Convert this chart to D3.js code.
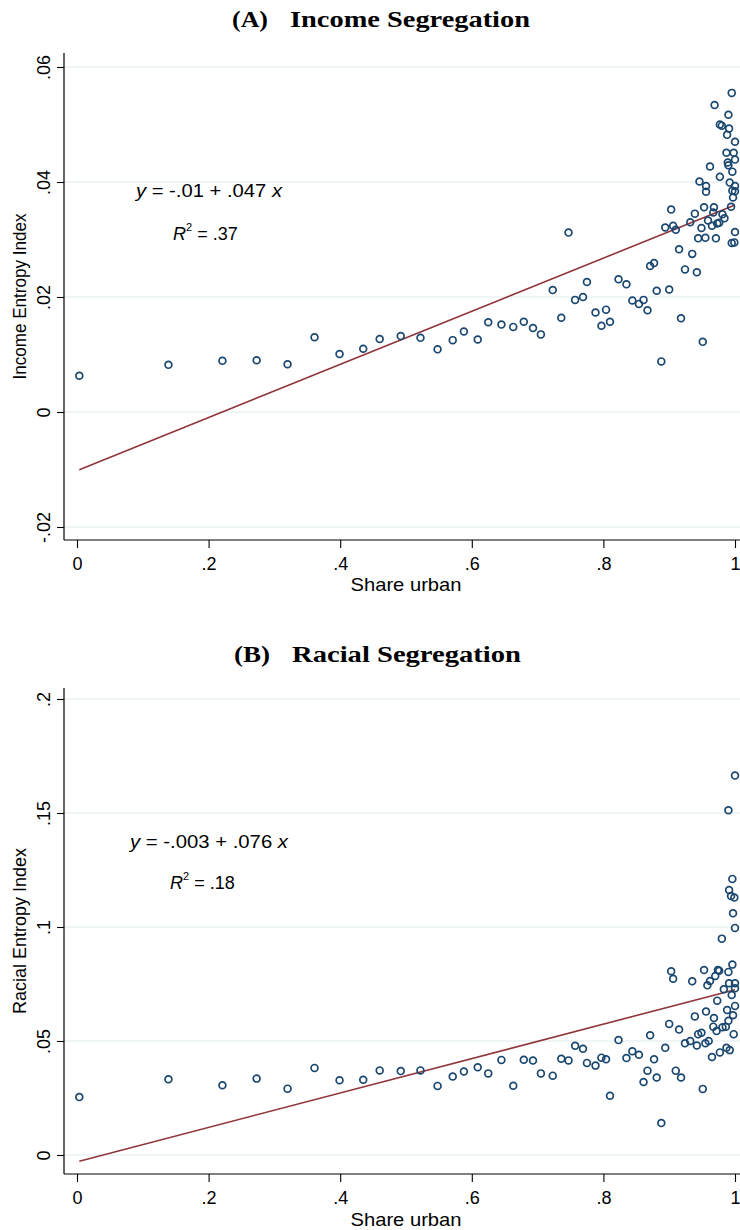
<!DOCTYPE html>
<html><head><meta charset="utf-8">
<script src="https://cdn.jsdelivr.net/npm/d3@7"></script>
<style>body{margin:0;background:#fff}svg{display:block}</style>
</head><body><svg id="c" width="740" height="1230"></svg>
<script>
// ---------- data ----------
const xTicks = [0, 0.2, 0.4, 0.6, 0.8, 1];
const xTickLabels = ["0", ".2", ".4", ".6", ".8", "1"];
const incomeTicks = [-0.02, 0, 0.02, 0.04, 0.06];
const incomeTickLabels = ["-.02", "0", ".02", ".04", ".06"];
const racialTicks = [0, 0.05, 0.1, 0.15, 0.2];
const racialTickLabels = ["0", ".05", ".1", ".15", ".2"];

const incomeShareUrban = [0.0035,0.139,0.221,0.273,0.320,0.361,0.399,0.435,0.460,
 0.492,0.522,0.548,0.571,0.588,0.609,0.625,0.645,0.663,0.679,0.693,0.705,0.723,0.736,0.747,0.757,0.769,0.775,0.788,0.797,0.804,0.810,0.823,
 0.835,0.844,0.854,0.861,0.867,0.871,0.877,0.881,0.888,0.894,0.900,0.903,0.906,0.910,0.915,0.918,0.924,0.932,0.935,0.939,0.942,0.944,0.949,0.951,0.953,0.955,0.959,0.965,0.967,0.968,0.971,0.973,0.976,0.981,0.984,0.994,0.995,0.999,1.0,
 0.995,0.969,0.990,0.977,0.980,0.991,0.988,1.0,0.987,0.998,1.0,0.989,0.990,0.962,0.996,0.977,0.946,0.956,0.992,1.0,0.956,0.996,1.0,0.997];
const incomeIndex = [0.0063,0.0082,0.0089,0.0090,0.0083,0.0130,0.0101,0.0110,0.0127,
 0.0132,0.0129,0.0109,0.0125,0.0140,0.0126,0.0156,0.0152,0.0148,0.0157,0.0146,0.0135,0.0212,0.0164,0.0312,0.0195,0.0200,0.0226,0.0173,0.0150,0.0178,0.0157,0.0231,
 0.0222,0.0194,0.0188,0.0195,0.0177,0.0254,0.0259,0.0211,0.0088,0.0321,0.0213,0.0352,0.0324,0.0317,0.0283,0.0163,0.0248,0.0330,0.0275,0.0345,0.0243,0.0302,0.0320,0.0122,0.0356,0.0303,0.0333,0.0324,0.0347,0.0356,0.0302,0.0328,0.0329,0.0344,0.0337,0.0357,0.0294,0.0295,0.0313,
 0.0555,0.0534,0.0517,0.0500,0.0498,0.0493,0.0482,0.0470,0.0451,0.0451,0.0439,0.0434,0.0429,0.0427,0.0418,0.0409,0.0401,0.0393,0.0399,0.0393,0.0383,0.0385,0.0384,0.0373];

const racialShareUrban = [0.0035,0.139,0.221,0.273,0.320,0.361,0.399,0.435,0.460,
 0.492,0.522,0.548,0.571,0.588,0.609,0.625,0.645,0.663,0.679,0.693,0.705,0.723,0.736,0.747,0.757,0.769,0.775,0.788,0.797,0.804,0.810,0.823,
 0.835,0.844,0.854,0.861,0.867,0.871,0.877,0.881,0.888,0.894,0.900,0.903,0.906,0.910,0.915,0.918,0.924,0.932,0.935,0.939,0.942,0.944,0.949,0.951,0.953,0.955,0.956,0.958,0.962,0.965,0.967,0.968,0.970,0.972,0.973,0.974,0.976,0.980,0.981,0.983,0.986,0.988,
 0.990,0.990,0.990,0.991,0.991,0.994,0.995,0.996,0.996,0.997,0.997,0.999,1.0,1.0,1.0,1.0,1.0,0.977,0.987,0.992,0.998,0.960];
const racialIndex = [0.0254,0.0332,0.0306,0.0335,0.0291,0.0382,0.0328,0.0330,0.0371,
 0.0368,0.0371,0.0303,0.0344,0.0366,0.0385,0.0358,0.0417,0.0304,0.0418,0.0414,0.0358,0.0348,0.0422,0.0415,0.0479,0.0466,0.0404,0.0392,0.0427,0.0420,0.0260,0.0504,
 0.0425,0.0455,0.0440,0.0320,0.0370,0.0525,0.0420,0.0340,0.0140,0.0470,0.0575,0.0806,0.0773,0.0370,0.0550,0.0340,0.0490,0.0500,0.0762,0.0608,0.0480,0.0530,0.0536,0.0290,0.0811,0.0490,0.0629,0.0744,0.0763,0.0430,0.0563,0.0601,0.0785,0.0544,0.0677,0.0811,0.0808,0.0949,0.0560,0.0727,0.0563,0.0636,
 0.0803,0.1512,0.0589,0.0753,0.1162,0.1136,0.0702,0.0835,0.1211,0.1060,0.0613,0.1129,0.1664,0.0996,0.0753,0.0731,0.0654,0.0450,0.0470,0.0460,0.0530,0.0500];

// fitted lines: [intercept, slope]
const incomeFit = [-0.0102, 0.0462];
const racialFit = [-0.003, 0.0755];

// ---------- drawing ----------
const svg = d3.select("#c");
const NAVY = "#1a476f", RED = "#90353b", GRID = "#eaf2f3";
const SANS = "'Liberation Sans', Arial, sans-serif";
const SERIF = "'Liberation Serif', 'Times New Roman', serif";

const x = d3.scaleLinear().domain([0, 1]).range([77, 735]);

function panel(cfg) {
  const g = svg.append("g");
  const y = cfg.y;
  // gridlines
  g.selectAll("line.grid").data(cfg.yTicks).join("line")
    .attr("x1", 64).attr("x2", 740)
    .attr("y1", d => y(d)).attr("y2", d => y(d))
    .attr("stroke", GRID).attr("stroke-width", 1.5);

  // y axis
  const ya = g.append("g").attr("transform", "translate(64,0)")
    .call(d3.axisLeft(y).tickValues(cfg.yTicks).tickSize(7).tickSizeOuter(0)
      .tickFormat((d, i) => cfg.yLabels[i]));
  ya.select(".domain").remove();
  ya.selectAll(".tick line").attr("stroke", "#000").attr("stroke-width", 1.1);
  ya.selectAll(".tick text").attr("x", null).attr("dy", null)
    .attr("transform", "translate(-14,0) rotate(-90)")
    .attr("text-anchor", "middle").attr("font-family", SANS).attr("font-size", 18).attr("fill", "#000");
  g.append("line").attr("x1", 64).attr("x2", 64).attr("y1", cfg.top).attr("y2", cfg.bottom)
    .attr("stroke", "#000").attr("stroke-width", 1.2);

  // x axis
  const xa = g.append("g").attr("transform", `translate(0,${cfg.bottom})`)
    .call(d3.axisBottom(x).tickValues(xTicks).tickSize(8).tickSizeOuter(0)
      .tickFormat((d, i) => xTickLabels[i]));
  xa.select(".domain").remove();
  xa.selectAll(".tick line").attr("stroke", "#000").attr("stroke-width", 1.1);
  xa.selectAll(".tick text").attr("y", 30).attr("dy", null)
    .attr("font-family", SANS).attr("font-size", 18).attr("fill", "#000");
  g.append("line").attr("x1", 64).attr("x2", 740).attr("y1", cfg.bottom).attr("y2", cfg.bottom)
    .attr("stroke", "#000").attr("stroke-width", 1.2);

  // fitted line
  const xs = d3.extent(cfg.xs);
  g.append("line")
    .attr("x1", x(xs[0])).attr("y1", y(cfg.fit[0] + cfg.fit[1] * xs[0]))
    .attr("x2", x(xs[1])).attr("y2", y(cfg.fit[0] + cfg.fit[1] * xs[1]))
    .attr("stroke", RED).attr("stroke-width", 1.6);

  // points
  g.selectAll("circle").data(cfg.xs.map((v, i) => [v, cfg.ys[i]])).join("circle")
    .attr("cx", d => x(d[0])).attr("cy", d => y(d[1])).attr("r", 3.4)
    .attr("fill", "none").attr("stroke", NAVY).attr("stroke-width", 1.7);

  // titles
  g.append("text").attr("x", cfg.tA[0]).attr("y", cfg.tBase)
    .attr("font-family", SERIF).attr("font-weight", "bold").attr("font-size", 24)
    .attr("textLength", cfg.tA[1]).attr("lengthAdjust", "spacingAndGlyphs").text(cfg.letter);
  g.append("text").attr("x", cfg.tB[0]).attr("y", cfg.tBase)
    .attr("font-family", SERIF).attr("font-weight", "bold").attr("font-size", 24)
    .attr("textLength", cfg.tB[1]).attr("lengthAdjust", "spacingAndGlyphs").text(cfg.title);

  // axis titles
  g.append("text").attr("x", 406).attr("y", cfg.xtBase).attr("text-anchor", "middle")
    .attr("font-family", SANS).attr("font-size", 19)
    .attr("textLength", 111).attr("lengthAdjust", "spacingAndGlyphs").text("Share urban");
  g.append("text").attr("transform", `translate(26,${(cfg.top + cfg.bottom) / 2}) rotate(-90)`)
    .attr("text-anchor", "middle").attr("font-family", SANS).attr("font-size", 17.5)
    .attr("textLength", 166).attr("lengthAdjust", "spacingAndGlyphs").text(cfg.ytitle);

  // equation
  const eq = g.append("text").attr("x", cfg.eq[0]).attr("y", cfg.eq[1])
    .attr("font-family", SANS).attr("font-size", 18)
    .attr("textLength", cfg.eq[2]).attr("lengthAdjust", "spacingAndGlyphs");
  eq.append("tspan").attr("font-style", "italic").text("y");
  eq.append("tspan").text(` = ${cfg.eqText} `);
  eq.append("tspan").attr("font-style", "italic").text("x");

  const r2 = g.append("text").attr("x", cfg.r2[0]).attr("y", cfg.r2[1])
    .attr("font-family", SANS).attr("font-size", 18);
  r2.append("tspan").attr("font-style", "italic").text("R");
  r2.append("tspan").attr("font-size", 11).attr("dy", -9).text("2");
  r2.append("tspan").attr("dy", 9).text(` = ${cfg.r2Text}`);
}

panel({
  y: d3.scaleLinear().domain([-0.02, 0.06]).range([527, 67]),
  yTicks: incomeTicks, yLabels: incomeTickLabels,
  top: 53, bottom: 540,
  xs: incomeShareUrban, ys: incomeIndex, fit: incomeFit,
  letter: "(A)", title: "Income Segregation", tA: [232, 36], tB: [290, 240], tBase: 27,
  xtBase: 591, ytitle: "Income Entropy Index",
  eq: [136, 197, 146], eqText: "-.01 + .047", r2: [173, 240], r2Text: ".37"
});
panel({
  y: d3.scaleLinear().domain([0, 0.2]).range([1155, 699]),
  yTicks: racialTicks, yLabels: racialTickLabels,
  top: 688, bottom: 1174,
  xs: racialShareUrban, ys: racialIndex, fit: racialFit,
  letter: "(B)", title: "Racial Segregation", tA: [234, 36], tB: [292, 229], tBase: 662,
  xtBase: 1226, ytitle: "Racial Entropy Index",
  eq: [130, 848, 158], eqText: "-.003 + .076", r2: [170, 889], r2Text: ".18"
});
</script></body></html>
